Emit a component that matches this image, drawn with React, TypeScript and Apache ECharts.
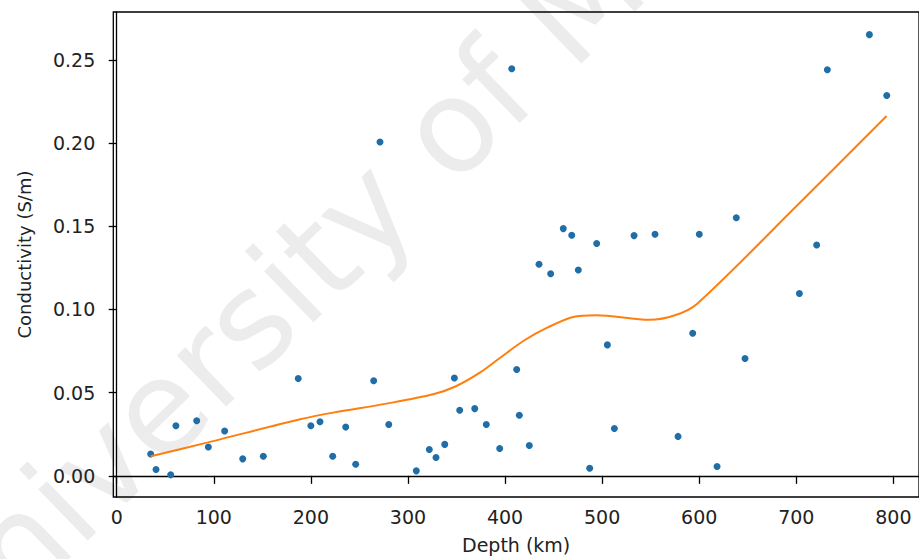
import React, { useEffect, useRef } from "react";
import * as echarts from "echarts";

const depthKm = [
  35, 40.5, 55.6, 61, 82.4, 94.4, 111.2, 129.8, 151, 187, 200, 209.4, 222.5, 235.9, 246.2,
  264.7, 271.2, 280.2, 308.6, 322, 328.9, 337.9, 347.8, 353.3, 368.8, 380.7, 394.5, 406.9,
  412, 414.7, 425, 435, 447, 460, 468.7, 475.5, 487.2, 494.4, 505.4, 512.6, 532.9, 554.5,
  578.2, 593.3, 600.1, 618.4, 638.2, 647.2, 703.2, 721, 732, 775.3, 793.2,
];
const conductivity = [
  0.0131, 0.0038, 0.0006, 0.0301, 0.0331, 0.0173, 0.0269, 0.0102, 0.0118, 0.0585, 0.0301,
  0.0325, 0.0118, 0.0293, 0.007, 0.0572, 0.2007, 0.0309, 0.003, 0.0158, 0.011, 0.0189, 0.0588,
  0.0394, 0.0404, 0.0309, 0.0164, 0.2447, 0.0639, 0.0364, 0.0182, 0.1272, 0.1215, 0.1486,
  0.1446, 0.1237, 0.0046, 0.1396, 0.0787, 0.0285, 0.1444, 0.1452, 0.0237, 0.0857, 0.1452,
  0.0056, 0.1551, 0.0705, 0.1096, 0.1388, 0.2441, 0.2652, 0.2286,
];

const trendDepth = [35, 94, 189, 223, 278, 326, 350, 374, 395, 420, 445, 470, 494, 549, 575, 598, 700, 793];
const trendCond = [0.0118, 0.0201, 0.034, 0.038, 0.0434, 0.049, 0.054, 0.062, 0.071, 0.0815, 0.0895, 0.0955, 0.0966, 0.0938, 0.0965, 0.1035, 0.162, 0.2163];

const xTicks = [0, 100, 200, 300, 400, 500, 600, 700, 800];
const yTicks = [0, 0.05, 0.1, 0.15, 0.2, 0.25];

const FONT = "DejaVu Sans";

export default function App() {
  const ref = useRef<HTMLDivElement>(null);
  useEffect(() => {
    if (!ref.current) return;
    const chart = echarts.init(ref.current, null, { renderer: "svg" });
    const ang = (44 * Math.PI) / 180;
    chart.setOption({
      animation: false,
      backgroundColor: "#ffffff",
      graphic: [
        {
          type: "text",
          x: -80,
          y: 640,
          rotation: ang,
          z: -10,
          silent: true,
          style: {
            text: "University of M",
            fontSize: 130,
            fontFamily: FONT,
            fill: "#ececec",
            textAlign: "left",
            textVerticalAlign: "middle",
          },
        },
      ],
      grid: {
        left: 113.3,
        top: 12,
        right: -2,
        bottom: 59,
        show: true,
        borderColor: "#000",
        borderWidth: 1.3,
        backgroundColor: "transparent",
      },
      xAxis: {
        type: "value",
        min: -3.5,
        max: 826.4,
        name: "Depth (km)",
        nameLocation: "middle",
        nameGap: 38,
        nameTextStyle: { fontFamily: FONT, fontSize: 19, color: "#222" },
        axisLine: { show: true, lineStyle: { color: "#000", width: 1.3 } },
        axisTick: { show: true, length: 8, lineStyle: { color: "#000", width: 1.3 }, customValues: xTicks },
        axisLabel: { fontFamily: FONT, fontSize: 19, color: "#222", margin: 10, customValues: xTicks },
        splitLine: { show: false },
      },
      yAxis: {
        type: "value",
        min: -0.01272,
        max: 0.2788,
        name: "Conductivity (S/m)",
        nameLocation: "middle",
        nameRotate: 90,
        nameGap: 80,
        nameTextStyle: { fontFamily: FONT, fontSize: 18, color: "#222" },
        axisLine: { show: true, lineStyle: { color: "#000", width: 1.3 } },
        axisTick: { show: true, length: 8, lineStyle: { color: "#000", width: 1.3 }, customValues: yTicks },
        axisLabel: {
          fontFamily: FONT,
          fontSize: 19,
          color: "#222",
          margin: 18,
          customValues: yTicks,
          formatter: (v: number) => v.toFixed(2),
        },
        splitLine: { show: false },
      },
      series: [
        {
          type: "scatter",
          data: depthKm.map((d, i) => [d, conductivity[i]]),
          symbolSize: 7,
          itemStyle: { color: "#1f6ea8", opacity: 1 },
          z: 3,
        },
        {
          type: "line",
          data: trendDepth.map((d, i) => [d, trendCond[i]]),
          smooth: 0.3,
          showSymbol: false,
          lineStyle: { color: "#ff7f0e", width: 2 },
          z: 4,
        },
      ],
    });
    return () => chart.dispose();
  }, []);
  return (
    <div
      ref={ref}
      style={{ position: "fixed", left: 0, top: 0, width: 919, height: 559, background: "#fff" }}
    />
  );
}
